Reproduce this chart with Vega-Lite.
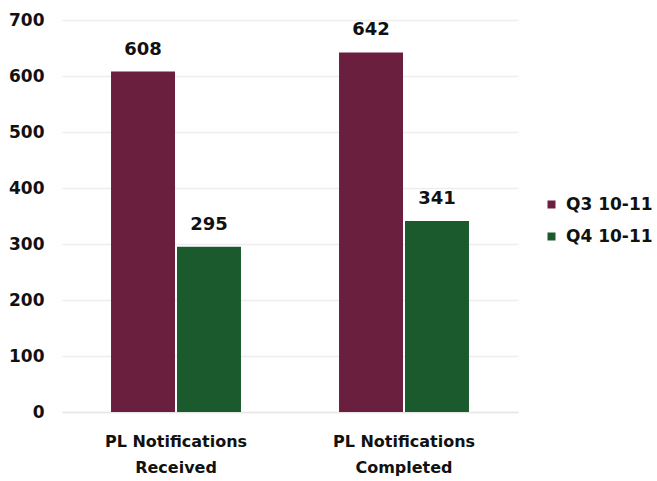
{
  "$schema": "https://vega.github.io/schema/vega-lite/v6.json",
  "width": 456,
  "height": 392,
  "autosize": "none",
  "padding": {"left": 62, "top": 20, "right": 139, "bottom": 69},
  "background": "white",
  "data": {"values": [
    {"cat": "PL Notifications Received", "series": "Q3 10-11", "value": 608},
    {"cat": "PL Notifications Received", "series": "Q4 10-11", "value": 295},
    {"cat": "PL Notifications Completed", "series": "Q3 10-11", "value": 642},
    {"cat": "PL Notifications Completed", "series": "Q4 10-11", "value": 341}
  ]},
  "encoding": {
    "x": {"field": "cat", "type": "nominal", "sort": ["PL Notifications Received", "PL Notifications Completed"],
      "scale": {"paddingInner": 0.43, "paddingOuter": 0.215},
      "axis": {"title": null, "labelAngle": 0, "labelExpr": "datum.label == 'PL Notifications Received' ? ['PL Notifications', 'Received'] : ['PL Notifications', 'Completed']",
        "labelFont": "DejaVu Sans", "labelFontSize": 16, "labelFontWeight": "bold", "labelColor": "#111", "labelLineHeight": 26, "labelPadding": 21,
        "ticks": false, "domainColor": "#e6e6e6", "domainWidth": 1.5}},
    "xOffset": {"field": "series", "type": "nominal", "scale": {"paddingInner": 0.03}},
    "y": {"field": "value", "type": "quantitative", "scale": {"domain": [0, 700]},
      "axis": {"title": null, "values": [0,100,200,300,400,500,600,700], "labelFont": "DejaVu Sans", "labelFontSize": 17, "labelFontWeight": "bold", "labelColor": "#111",
        "domain": false, "ticks": false, "labelPadding": 18, "gridColor": "#ededed", "gridWidth": 1.5}}
  },
  "layer": [
    {"mark": {"type": "bar"},
     "encoding": {"color": {"field": "series", "type": "nominal",
        "scale": {"domain": ["Q3 10-11", "Q4 10-11"], "range": ["#6b1f3e", "#1b5a2c"]},
        "legend": {"title": null, "symbolType": "square", "symbolSize": 64, "labelFont": "DejaVu Sans", "labelFontSize": 17, "labelFontWeight": "bold", "labelColor": "#111", "rowPadding": 14, "labelOffset": 6, "orient": "none", "legendX": 481, "legendY": 176}}}},
    {"mark": {"type": "text", "dy": -22, "font": "DejaVu Sans", "fontSize": 18, "fontWeight": "bold", "color": "#111"},
     "encoding": {"text": {"field": "value", "type": "quantitative"}}}
  ],
  "config": {"view": {"stroke": null}}
}
